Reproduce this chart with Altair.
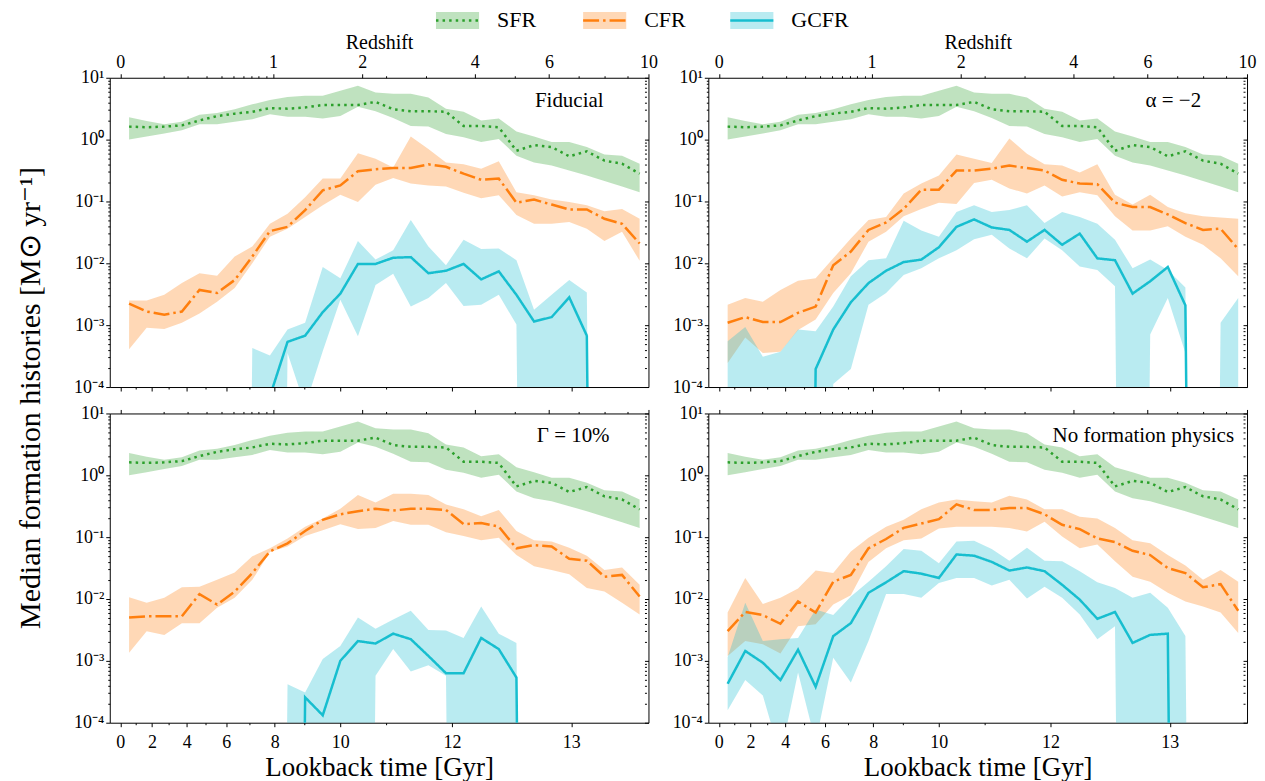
import numpy as np
import pandas as pd
import altair as alt

FONT = "Liberation Serif"

# ---- bin centres, in log10(1+z) ----
LOG1PZ = [0.0174, 0.0521, 0.0868, 0.1215, 0.1562, 0.1909, 0.2256, 0.2603, 0.2951, 0.3298,
          0.3645, 0.3992, 0.4339, 0.4686, 0.5033, 0.5381, 0.5728, 0.6075, 0.6422, 0.6769,
          0.7116, 0.7463, 0.7811, 0.8158, 0.8505, 0.8852, 0.9199, 0.9546, 0.9893, 1.0240]

SERIES = ["SFR", "CFR", "GCFR"]
COLORS = ["#2ca02c", "#ff7f0e", "#17becf"]
DASHES = [[2.5, 4.1], [16, 4, 2.5, 4], [1, 0]]

# ---- values as log10(M_sun / yr); None = no formation (non-positive) ----
sfr_med = [0.21, 0.20, 0.21, 0.23, 0.31, 0.38, 0.42, 0.45, 0.51, 0.50, 0.52, 0.56, 0.56, 0.56, 0.61,
           0.49, 0.46, 0.46, 0.45, 0.22, 0.22, 0.20, -0.18, -0.09, -0.12, -0.27, -0.19, -0.34, -0.39, -0.55]
sfr_hi = [0.36, 0.30, 0.25, 0.29, 0.40, 0.43, 0.49, 0.57, 0.64, 0.69, 0.71, 0.71, 0.79, 0.87, 0.76,
          0.74, 0.74, 0.68, 0.50, 0.45, 0.31, 0.34, 0.13, 0.05, -0.04, -0.04, -0.12, -0.24, -0.26, -0.39]
sfr_lo = [0.00, 0.05, 0.10, 0.15, 0.25, 0.25, 0.29, 0.33, 0.41, 0.37, 0.37, 0.34, 0.38, 0.53, 0.46,
          0.35, 0.22, 0.21, 0.09, 0.04, -0.04, 0.01, -0.26, -0.37, -0.42, -0.50, -0.58, -0.67, -0.76, -0.85]

# Fiducial
cfr_med_fid = [-2.65, -2.78, -2.83, -2.78, -2.43, -2.48, -2.27, -1.89, -1.48, -1.41, -1.14, -0.82, -0.74, -0.51, -0.48,
               -0.46, -0.46, -0.40, -0.44, -0.55, -0.65, -0.63, -1.02, -0.97, -1.05, -1.13, -1.13, -1.28, -1.36, -1.68]
cfr_hi_fid = [-2.60, -2.60, -2.51, -2.32, -2.16, -2.20, -1.89, -1.73, -1.36, -1.20, -0.93, -0.63, -0.63, -0.22, -0.31,
              -0.45, 0.05, -0.15, -0.37, -0.40, -0.47, -0.35, -0.85, -0.90, -0.97, -1.01, -1.06, -1.16, -1.12, -1.28]
cfr_lo_fid = [-3.39, -3.04, -3.06, -2.96, -2.81, -2.62, -2.40, -2.00, -1.57, -1.44, -1.25, -1.06, -0.89, -1.01, -0.73,
              -0.62, -0.71, -0.74, -0.76, -0.86, -0.95, -0.90, -1.22, -1.36, -1.36, -1.33, -1.44, -1.64, -1.49, -1.96]
gc_med_fid = [None] * 8 + [-4.15, -3.27, -3.17, -2.79, -2.49, -2.01, -2.01, -1.91, -1.90, -2.16, -2.12, -2.01, -2.26,
                           -2.13, -2.51, -2.94, -2.87, -2.55, -3.17] + [None] * 3
gc_hi_fid = [None] * 7 + [-3.37, -3.49, -3.07, -2.96, -2.06, -2.24, -1.64, -1.94, -1.79, -1.30, -1.73, -2.03, -1.62,
                          -1.77, -1.76, -1.95, -2.75, -2.51, -2.27, -2.47] + [None] * 3
gc_lo_fid = [None] * 9 + [-3.45, -4.31, -3.42, -2.59, -3.18, -2.35, -2.17, -2.70, -2.56, -2.32, -2.69, -2.67, -2.51,
                          -2.99] + [None] * 7

# alpha = -2
cfr_med_a = [-2.96, -2.87, -2.95, -2.95, -2.80, -2.70, -2.03, -1.81, -1.46, -1.34, -1.12, -0.81, -0.81, -0.50, -0.50,
             -0.47, -0.42, -0.46, -0.50, -0.65, -0.71, -0.72, -1.02, -1.09, -1.09, -1.21, -1.35, -1.46, -1.44, -1.77]
cfr_hi_a = [-2.67, -2.56, -2.62, -2.43, -2.28, -2.24, -1.92, -1.60, -1.30, -1.25, -0.87, -0.71, -0.58, -0.24, -0.31,
            -0.38, 0.02, -0.23, -0.40, -0.42, -0.53, -0.40, -0.89, -1.05, -0.89, -1.09, -1.19, -1.24, -1.26, -1.28]
cfr_lo_a = [-3.61, -3.20, -3.45, -3.43, -3.08, -2.91, -2.48, -2.16, -1.65, -1.49, -1.24, -1.12, -1.02, -1.04, -0.70,
            -0.65, -0.79, -0.87, -0.74, -0.92, -0.85, -0.90, -1.24, -1.47, -1.47, -1.40, -1.57, -1.70, -1.92, -2.21]
gc_med_a = [None] * 5 + [-3.71, -3.07, -2.63, -2.32, -2.12, -1.98, -1.94, -1.74, -1.41, -1.29, -1.42, -1.46, -1.65,
                         -1.46, -1.70, -1.52, -1.92, -1.95, -2.49, -2.29, -2.06, -2.68] + [None] * 3
gc_hi_a = [-3.26, -3.03, -3.51, -3.43, -3.07, -3.10, -2.70, -2.21, -1.95, -1.92, -1.31, -1.47, -1.57, -1.17, -1.06,
           -1.17, -1.14, -1.06, -1.35, -1.17, -1.25, -1.36, -1.62, -2.08, -1.94, -2.11, -2.39, None, -2.96, -2.56]
gc_lo_a = [None] * 6 + [-3.95, -3.71, -2.67, -2.48, -2.19, -2.08, -1.92, -1.79, -1.61, -1.54, -1.76, -1.92, -1.60,
                        -1.79, -2.05, -2.11, -2.37, None, -3.15, -2.56, -3.45, None, None, None]

# Gamma = 10%
cfr_med_g = [-2.30, -2.28, -2.28, -2.28, -1.92, -2.09, -1.88, -1.58, -1.23, -1.10, -0.90, -0.72, -0.63, -0.58, -0.54,
             -0.57, -0.54, -0.54, -0.56, -0.79, -0.77, -0.83, -1.18, -1.13, -1.15, -1.35, -1.38, -1.64, -1.61, -1.96]
cfr_hi_g = [-1.97, -2.06, -1.98, -1.81, -1.80, -1.69, -1.57, -1.31, -1.18, -1.02, -0.83, -0.70, -0.54, -0.32, -0.44,
            -0.30, -0.30, -0.32, -0.47, -0.55, -0.66, -0.56, -0.90, -1.05, -1.07, -1.17, -1.30, -1.53, -1.49, -1.77]
cfr_lo_g = [-2.87, -2.52, -2.58, -2.39, -2.39, -2.14, -1.98, -1.69, -1.24, -1.15, -0.98, -0.89, -0.79, -0.87, -0.85,
            -0.74, -0.80, -0.80, -0.92, -0.98, -1.05, -1.01, -1.29, -1.47, -1.53, -1.60, -1.82, -1.88, -2.06, -2.25]
gc_med_g = [None] * 10 + [-3.59, -3.88, -3.00, -2.68, -2.72, -2.56, -2.65, -2.92, -3.20, -3.20, -2.63, -2.81,
                          -3.27] + [None] * 7
gc_hi_g = [None] * 9 + [-3.38, -3.51, -2.97, -2.76, -2.30, -2.48, -2.33, -2.19, -2.50, -2.51, -2.63, -2.12, -2.56,
                        -2.71] + [None] * 7
gc_lo_g = [None] * 14 + [-3.24, -2.81, -3.17, -3.07, -3.24] + [None] * 11

# No formation physics
cfr_med_n = [-2.52, -2.21, -2.26, -2.40, -2.04, -2.22, -1.72, -1.61, -1.18, -1.03, -0.85, -0.78, -0.71, -0.47, -0.56,
             -0.56, -0.53, -0.53, -0.63, -0.80, -0.87, -1.02, -1.08, -1.22, -1.29, -1.50, -1.58, -1.81, -1.76, -2.19]
cfr_hi_n = [-2.22, -1.66, -2.08, -1.98, -1.83, -1.54, -1.58, -1.23, -1.01, -0.83, -0.72, -0.55, -0.44, -0.39, -0.42,
            -0.44, -0.33, -0.39, -0.55, -0.55, -0.67, -0.70, -0.85, -1.05, -1.10, -1.29, -1.46, -1.69, -1.53, -1.72]
cfr_lo_n = [-2.92, -2.68, -2.73, -2.88, -2.44, -2.41, -2.09, -1.94, -1.40, -1.18, -1.05, -1.02, -0.86, -0.83, -0.83,
            -0.83, -0.85, -0.91, -0.75, -0.99, -1.18, -1.12, -1.39, -1.64, -1.72, -1.90, -2.04, -2.12, -2.22, -2.55]
gc_med_n = [-3.37, -2.84, -3.03, -3.31, -2.82, -3.42, -2.60, -2.39, -1.90, -1.73, -1.55, -1.59, -1.66, -1.28, -1.30,
            -1.40, -1.54, -1.49, -1.55, -1.77, -2.01, -2.32, -2.21, -2.71, -2.58, -2.56] + [None] * 4
gc_hi_n = [-2.94, -2.06, -2.68, -2.65, -2.63, -2.17, -2.26, -1.96, -1.72, -1.47, -1.19, -1.22, -1.42, -1.07, -1.06,
           -1.19, -1.38, -1.17, -1.38, -1.39, -1.55, -1.73, -1.82, -1.98, -1.90, -2.14, -2.60] + [None] * 3
gc_lo_n = [-3.80, -3.31, -3.56, -4.54, -3.19, -4.32, -2.95, -3.35, -2.68, -1.92, -1.92, -1.98, -1.74, -1.66, -1.66,
           -1.78, -1.69, -1.99, -1.80, -1.98, -2.25, -2.65, -2.44] + [None] * 7

PANELS = [
    ("Fiducial", (cfr_med_fid, cfr_lo_fid, cfr_hi_fid), (gc_med_fid, gc_lo_fid, gc_hi_fid), 495),
    ("\u03b1 = \u22122", (cfr_med_a, cfr_lo_a, cfr_hi_a), (gc_med_a, gc_lo_a, gc_hi_a), 494),
    ("\u0393 = 10%", (cfr_med_g, cfr_lo_g, cfr_hi_g), (gc_med_g, gc_lo_g, gc_hi_g), 501),
    ("No formation physics", (cfr_med_n, cfr_lo_n, cfr_hi_n), (gc_med_n, gc_lo_n, gc_hi_n), 527),
]

# tick labels
Z_MAJOR = [0, 1, 2, 4, 6, 10]
Z_MINOR = [0.22, 0.36, 0.48, 0.58, 0.67, 0.75, 0.81, 0.87, 0.94, 2.35, 3, 5, 7, 8, 9]
LB_MAJOR = [0, 2, 4, 6, 8, 10, 12, 13]
LB_MINOR = [1, 3, 5, 7, 9, 11]

# non-positive values are clipped to a tiny number on the log axis (as matplotlib does)
FLOOR = 1e-30


def to_val(dex):
    return [FLOOR if d is None else 10.0 ** d for d in dex]


def panel_df(cfr, gc):
    rows = []
    for name, (med, lo, hi) in zip(SERIES, [(sfr_med, sfr_lo, sfr_hi), cfr, gc]):
        for u, m, l, h in zip(LOG1PZ, to_val(med), to_val(lo), to_val(hi)):
            rows.append(dict(u=u, series=name, med=m, lo=l, hi=h))
    return pd.DataFrame(rows)


# ---- lookback time <-> redshift (flat LCDM, Planck 2015) for the lower axis ----
H0, OM = 67.74, 0.3089
zz = np.linspace(0.0, 30.0, 300001)
integ = 1.0 / ((1.0 + zz) * np.sqrt(OM * (1.0 + zz) ** 3 + 1.0 - OM))
tl = np.concatenate([[0.0], np.cumsum(0.5 * (integ[1:] + integ[:-1]) * np.diff(zz))]) * (977.79 / H0)


def u_of_z(z):
    return round(float(np.log10(1.0 + z)), 6)


def u_of_lb(t):
    return u_of_z(float(np.interp(t, tl, zz)))


z_major_u = [u_of_z(z) for z in Z_MAJOR]
z_minor_u = [u_of_z(z) for z in Z_MINOR]
lb_major_u = [u_of_lb(t) for t in LB_MAJOR]
lb_minor_u = [u_of_lb(t) for t in LB_MINOR]


def near(vals):
    return " || ".join(f"abs(datum.value - {v:.6f}) < 1e-5" for v in vals)


def lab_expr(us, labs):
    return "".join(f"abs(datum.value - {u:.6f}) < 1e-5 ? '{l}' : " for u, l in zip(us, labs)) + "''"


def tick_cond(test):
    return {"condition": {"test": test, "value": 4}, "value": 2}


y_vals = [k * 10.0 ** e for e in range(-4, 1) for k in range(1, 10)] + [10.0]
SUP = {1: "\u00b9", 0: "\u2070", -1: "\u207b\u00b9", -2: "\u207b\u00b2", -3: "\u207b\u00b3", -4: "\u207b\u2074"}
y_lab = "".join(f"abs(log(datum.value)/LN10 - ({e})) < 0.001 ? '10{SUP[e]}' : " for e in range(1, -5, -1)) + "''"
y_tick = tick_cond("abs(log(datum.value)/LN10 - round(log(datum.value)/LN10)) < 0.001")

XDOM = [-0.0207, 1.0414]
xs = alt.Scale(domain=XDOM, nice=False, zero=False)
ys = alt.Scale(type="log", domain=[1e-4, 10], nice=False)
cs = alt.Scale(domain=SERIES, range=COLORS)
ds = alt.Scale(domain=SERIES, range=DASHES)

W, H = 540, 310


def panel(idx):
    label, cfr, gc, lab_x = PANELS[idx]
    top = idx < 2
    df = panel_df(cfr, gc)
    z_vals = z_major_u + z_minor_u
    lb_vals = lb_major_u + lb_minor_u
    if top:
        x_main = alt.Axis(orient="top", values=z_vals, labelExpr=lab_expr(z_major_u, Z_MAJOR),
                          tickSize=tick_cond(near(z_major_u)), title="Redshift",
                          titleFontSize=20, labelFontSize=18, labelPadding=2, titlePadding=1)
        x_sec = alt.Axis(orient="bottom", values=lb_vals, labels=False,
                         tickSize=tick_cond(near(lb_major_u)), title=None)
    else:
        x_main = alt.Axis(orient="bottom", values=lb_vals, labelExpr=lab_expr(lb_major_u, LB_MAJOR),
                          tickSize=tick_cond(near(lb_major_u)), title="Lookback time [Gyr]",
                          titleFontSize=27, labelFontSize=18, labelPadding=7, titlePadding=3)
        x_sec = alt.Axis(orient="top", values=z_vals, labels=False,
                         tickSize=tick_cond(near(z_major_u)), title=None)
    y_left = alt.Axis(orient="left", values=y_vals, labelExpr=y_lab, tickSize=y_tick, title=None,
                      labelFontSize=18, labelPadding=2)
    y_right = alt.Axis(orient="right", values=y_vals, labels=False, tickSize=y_tick, offset=-4, title=None)

    base = alt.Chart(df)
    band = base.mark_area(opacity=0.3, clip=True).encode(
        x=alt.X("u:Q", scale=xs, axis=x_main),
        y=alt.Y("hi:Q", scale=ys, axis=y_left, stack=False),
        y2="lo:Q",
        color=alt.Color("series:N", scale=cs, legend=None),
    )
    line = base.mark_line(clip=True, strokeWidth=2.5).encode(
        x=alt.X("u:Q", scale=xs, axis=None),
        y=alt.Y("med:Q", scale=ys, axis=None),
        color=alt.Color("series:N", scale=cs, legend=None),
        strokeDash=alt.StrokeDash("series:N", scale=ds, legend=None),
    )
    guide = base.transform_filter("datum.series == 'SFR'").mark_point(opacity=0).encode(
        x=alt.X("u:Q", scale=xs, axis=x_sec),
        y=alt.Y("med:Q", scale=ys, axis=y_right),
    )
    txt = alt.Chart(pd.DataFrame({"t": [label]})).mark_text(
        align="right", baseline="middle", fontSize=21, font=FONT, color="black"
    ).encode(x=alt.value(lab_x), y=alt.value(23), text="t:N")
    return alt.layer(band, line, guide, txt).resolve_axis(x="independent", y="independent").properties(
        width=W, height=H, view=alt.ViewBackground(stroke="black", strokeWidth=1)
    )


NOVIEW = alt.ViewBackground(stroke="transparent")

# legend
leg = pd.DataFrame({"series": SERIES, "slot": [0, 1, 2]})
LEG_X0, LEG_STEP = 327, 147.5
lx = alt.Scale(domain=[0, 2], range=[LEG_X0, LEG_X0 + 2 * LEG_STEP])
lb = alt.Chart(leg).transform_calculate(xe="datum.slot + 0.293", xt="datum.slot + 0.415")
patch = lb.mark_rect(opacity=0.3).encode(
    x=alt.X("slot:Q", scale=lx, axis=None), x2="xe:Q", y=alt.value(1), y2=alt.value(18),
    color=alt.Color("series:N", scale=cs, legend=None))
lline = lb.mark_rule(strokeWidth=2.5).encode(
    x=alt.X("slot:Q", scale=lx, axis=None), x2="xe:Q", y=alt.value(9.5),
    color=alt.Color("series:N", scale=cs, legend=None),
    strokeDash=alt.StrokeDash("series:N", scale=ds, legend=None))
ltext = lb.mark_text(align="left", baseline="middle", fontSize=22, font=FONT, color="black").encode(
    x=alt.X("xt:Q", scale=lx, axis=None), y=alt.value(9.5), text="series:N")
legend = alt.layer(patch, lline, ltext).properties(width=1140, height=19, view=NOVIEW)

YTITLE = "Median formation histories [M\u2299 yr\u207b\u00b9]"
ytitle = alt.Chart(pd.DataFrame({"t": [YTITLE]})).mark_text(
    angle=270, fontSize=30, font=FONT, color="black", align="center", baseline="middle"
).encode(text="t:N", x=alt.value(22), y=alt.value(388)).properties(width=40, height=700, view=NOVIEW)

row1 = alt.hconcat(panel(0), panel(1), spacing=60, bounds="flush")
row2 = alt.hconcat(panel(2), panel(3), spacing=60, bounds="flush")
grid = alt.vconcat(row1, row2, spacing=6.5)
right = alt.vconcat(legend, grid, spacing=0)

chart = alt.hconcat(ytitle, right, spacing=23).properties(padding=0).configure(font=FONT).configure_axis(
    labelFont=FONT, titleFont=FONT, labelColor="black", titleColor="black", tickColor="black",
    tickWidth=1, titleFontWeight="normal", grid=False, domain=False, labelOverlap=False, labelFlush=False
).configure_view(stroke="transparent")

chart.save("out.html", embed_options={"renderer": "svg", "actions": False})
